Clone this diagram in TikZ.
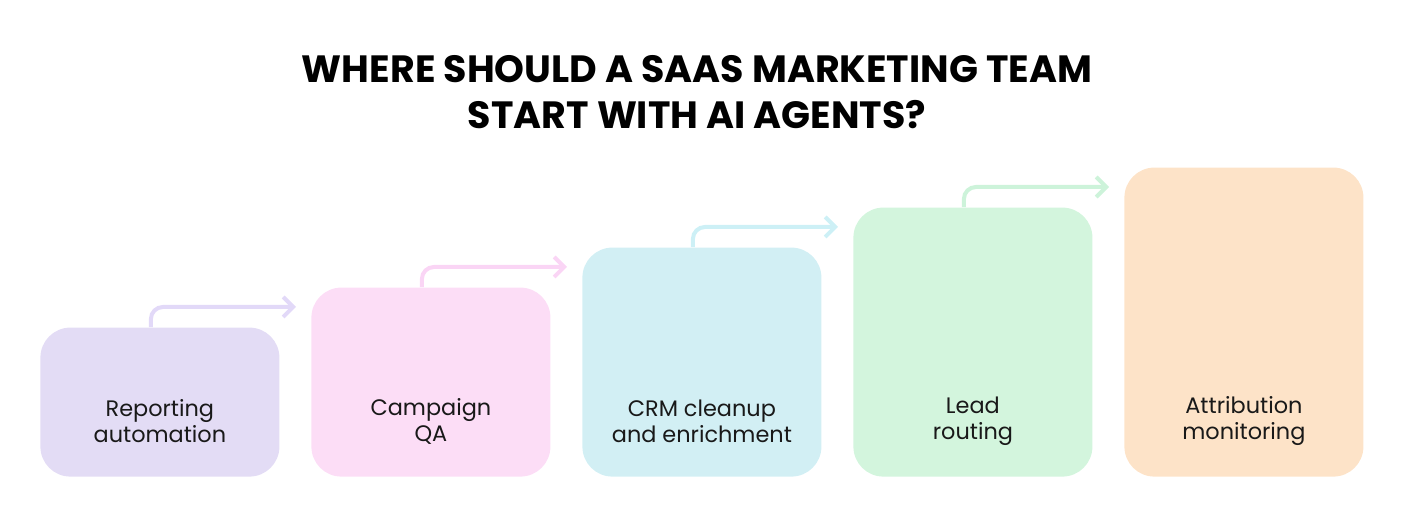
\documentclass[tikz,border=0pt]{standalone}
\usepackage{fontspec}
\setmainfont{Poppins}
\usetikzlibrary{positioning,arrows.meta}
\definecolor{cpurple}{HTML}{E3DCF5}
\definecolor{cpink}{HTML}{FCDDF6}
\definecolor{ccyan}{HTML}{D2EFF4}
\definecolor{cgreen}{HTML}{D3F5DD}
\definecolor{corange}{HTML}{FDE3C8}
\definecolor{apurple}{HTML}{E2D9F8}
\definecolor{apink}{HTML}{FAD5F5}
\definecolor{acyan}{HTML}{CDF0F6}
\definecolor{agreen}{HTML}{CDF3DA}
\begin{document}
\begin{tikzpicture}[x=0.5pt, y=-0.5pt,
    stage/.style={rounded corners=15pt, minimum width=119.5pt, align=center,
                 anchor=south west, inner sep=0pt},
    lbl/.style={font=\fontsize{11.2}{13}\selectfont, align=center, text=black!90},
    link/.style={line width=2pt, rounded corners=6pt,
                 -{Straight Barb[length=5pt, width=10pt, line width=2pt]}},
  ]
  \useasboundingbox (0,0) rectangle (1404,522);
  % title
  \node[font=\fontsize{19}{23}\selectfont\bfseries, align=center] (title) at (697,92)
    {WHERE SHOULD A SAAS MARKETING TEAM\\START WITH AI AGENTS?};
  % stages
  \node[stage, fill=cpurple, minimum height=74.5pt] (s1) at (40,477) {};
  \node[stage, fill=cpink, minimum height=94.5pt] (s2) at (311,477) {};
  \node[stage, fill=ccyan, minimum height=114.5pt] (s3) at (582,477) {};
  \node[stage, fill=cgreen, minimum height=134.5pt] (s4) at (853,477) {};
  \node[stage, fill=corange, minimum height=154.5pt] (s5) at (1124,477) {};
  \node[lbl] (l1) at (s1.center |- 0,421) {Reporting\\automation};
  \node[lbl] (l2) at (s2.center |- 0,421) {Campaign\\QA};
  \node[lbl] (l3) at (s3.center |- 0,421) {CRM cleanup\\and enrichment};
  \node[lbl] (l4) at (s4.center |- 0,421) {Lead\\routing};
  \node[lbl] (l5) at (s5.center |- 0,421) {Attribution\\monitoring};
  % arrows
  \coordinate (e1) at (296,307);
  \coordinate (e2) at (567,267);
  \coordinate (e3) at (838,227);
  \coordinate (e4) at (1109,187);
  \draw[link, draw=apurple] ([xshift=-4.5pt]s1.north) |- (e1);
  \draw[link, draw=apink] ([xshift=-4.5pt]s2.north) |- (e2);
  \draw[link, draw=acyan] ([xshift=-4.5pt]s3.north) |- (e3);
  \draw[link, draw=agreen] ([xshift=-4.5pt]s4.north) |- (e4);
\end{tikzpicture}
\end{document}
